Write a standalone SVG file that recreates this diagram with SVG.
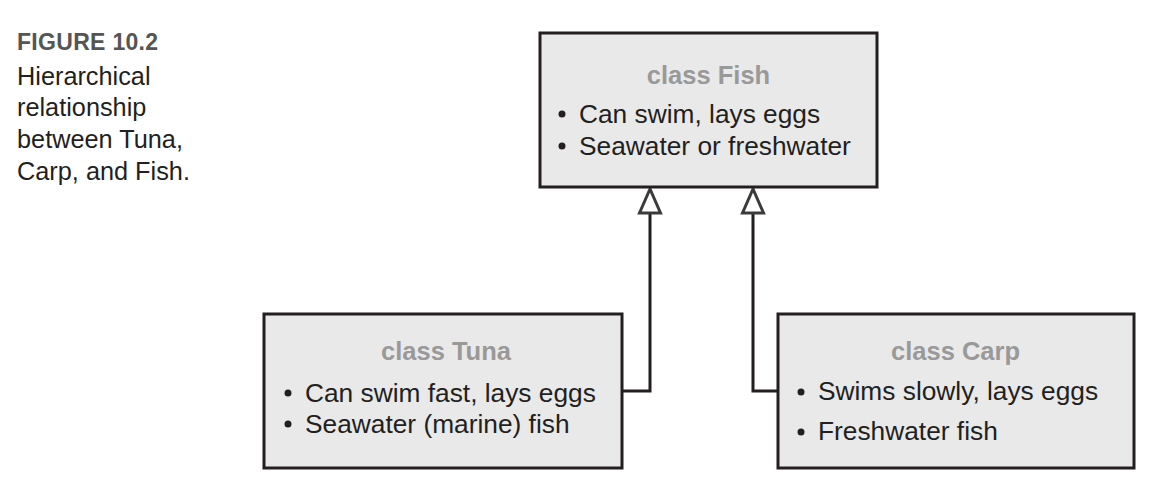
<svg xmlns="http://www.w3.org/2000/svg" width="1172" height="499" viewBox="0 0 1172 499">
  <defs>
    <style>
      .box { fill: #e9e9e9; stroke: #231f20; stroke-width: 3; }
      .head { font-family: "Liberation Sans", Arial, sans-serif; font-weight: bold; font-size: 25.5px; fill: #999999; text-anchor: middle; }
      .body { font-family: "Liberation Sans", Arial, sans-serif; font-size: 26.3px; fill: #231f20; }
      .cap { font-family: "Liberation Sans", Arial, sans-serif; font-size: 25.3px; fill: #231f20; }
      .fig { font-family: "Liberation Sans", Arial, sans-serif; font-weight: bold; font-size: 23px; fill: #555555; letter-spacing: 0.3px; }
      .conn { fill: none; stroke: #231f20; stroke-width: 3; }
      .tri { fill: #ffffff; stroke: #3a3a3a; stroke-width: 3; stroke-linejoin: miter; }
    </style>
  </defs>
  <rect x="0" y="0" width="1172" height="499" fill="#ffffff"/>

  <g id="caption">
    <text class="fig" x="17" y="50">FIGURE 10.2</text>
    <text class="cap" x="17" y="85">Hierarchical</text>
    <text class="cap" x="17" y="116">relationship</text>
    <text class="cap" x="17" y="148">between Tuna,</text>
    <text class="cap" x="17" y="180">Carp, and Fish.</text>
  </g>

  <g id="connectors">
    <polyline class="conn" points="622,391 650,391 650,213"/>
    <polyline class="conn" points="778,391 753,391 753,213"/>
    <polygon class="tri" points="650,189 639.5,213 660.5,213"/>
    <polygon class="tri" points="753,189 742.5,213 763.5,213"/>
  </g>

  <g id="fish">
    <rect class="box" x="540" y="33" width="337" height="154"/>
    <text class="head" x="708.5" y="84">class Fish</text>
    <circle cx="562" cy="114" r="3.5" fill="#231f20"/>
    <text class="body" x="579" y="123">Can swim, lays eggs</text>
    <circle cx="562" cy="146" r="3.5" fill="#231f20"/>
    <text class="body" x="579" y="155">Seawater or freshwater</text>
  </g>

  <g id="tuna">
    <rect class="box" x="264" y="314" width="358" height="154"/>
    <text class="head" x="446" y="360">class Tuna</text>
    <circle cx="288" cy="393" r="3.5" fill="#231f20"/>
    <text class="body" x="305" y="402">Can swim fast, lays eggs</text>
    <circle cx="288" cy="424" r="3.5" fill="#231f20"/>
    <text class="body" x="305" y="433">Seawater (marine) fish</text>
  </g>

  <g id="carp">
    <rect class="box" x="778" y="314" width="356" height="154"/>
    <text class="head" x="955.5" y="360">class Carp</text>
    <circle cx="801" cy="392" r="3.5" fill="#231f20"/>
    <text class="body" x="818" y="400">Swims slowly, lays eggs</text>
    <circle cx="801" cy="432" r="3.5" fill="#231f20"/>
    <text class="body" x="818" y="440">Freshwater fish</text>
  </g>
</svg>
